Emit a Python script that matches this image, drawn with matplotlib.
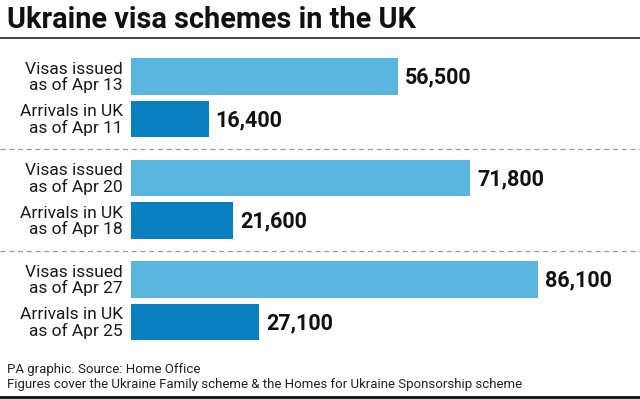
import matplotlib
matplotlib.use("Agg")
import matplotlib.pyplot as plt

# data
labels = [
    "Visas issued\nas of Apr 13",
    "Arrivals in UK\nas of Apr 11",
    "Visas issued\nas of Apr 20",
    "Arrivals in UK\nas of Apr 18",
    "Visas issued\nas of Apr 27",
    "Arrivals in UK\nas of Apr 25",
]
values = [56500, 16400, 71800, 21600, 86100, 27100]
kinds = ["visa", "arrival", "visa", "arrival", "visa", "arrival"]

colours = {"visa": "#5ab6df", "arrival": "#0a80c0"}

W, H = 640, 399
fig = plt.figure(figsize=(6.4, 3.99), dpi=100)
fig.patch.set_facecolor("white")

# overlay axes in pixel units for the furniture
bg = fig.add_axes([0, 0, 1, 1])
bg.set_xlim(0, W)
bg.set_ylim(H, 0)
bg.axis("off")

# bar axes: x=0 sits at pixel 131, full figure height in pixel units
left_px = 131
ax = fig.add_axes([left_px / W, 0, 1 - left_px / W, 1])
ax.set_xlim(0, 107700)
ax.set_ylim(H, 0)
ax.axis("off")

# layout: groups of two bars
first_centre = 76.5
pair_gap = 42.5
group_gap = 101.5
bar_h = 36.5

ys = []
for k in range(len(values)):
    g, i = divmod(k, 2)
    ys.append(first_centre + g * group_gap + i * pair_gap)

ax.barh(ys, values, height=bar_h, color=[colours[k] for k in kinds])

for y, v, lab in zip(ys, values, labels):
    ax.text(v + 1500, y + 1, f"{v:,}", va="center", ha="left",
            fontsize=15.5, fontweight="bold", family="Roboto", color="#111111")
    bg.text(123, y + 1, lab, va="center", ha="right", fontsize=12.5,
            family="Roboto", color="#1a1a1a", linespacing=1.0)

# title and rules
bg.text(7, 28, "Ukraine visa schemes in the UK", fontsize=20.8,
        fontweight="bold", family="Roboto", color="#111111", va="baseline")
bg.plot([0, W], [37.5, 37.5], color="#222222", lw=1.2)
for yy in (149, 250.5):
    bg.plot([0, W], [yy, yy], color="#999999", lw=0.9, ls=(0, (4, 3)))
bg.plot([0, W], [396.5, 396.5], color="#111111", lw=2)

# footnotes
bg.text(7, 373, "PA graphic. Source: Home Office", fontsize=9.5,
        family="Roboto", color="#222222", va="baseline")
bg.text(7, 388, "Figures cover the Ukraine Family scheme & the Homes for Ukraine Sponsorship scheme",
        fontsize=9.5, family="Roboto", color="#222222", va="baseline")

fig.savefig("out.png", dpi=100)
